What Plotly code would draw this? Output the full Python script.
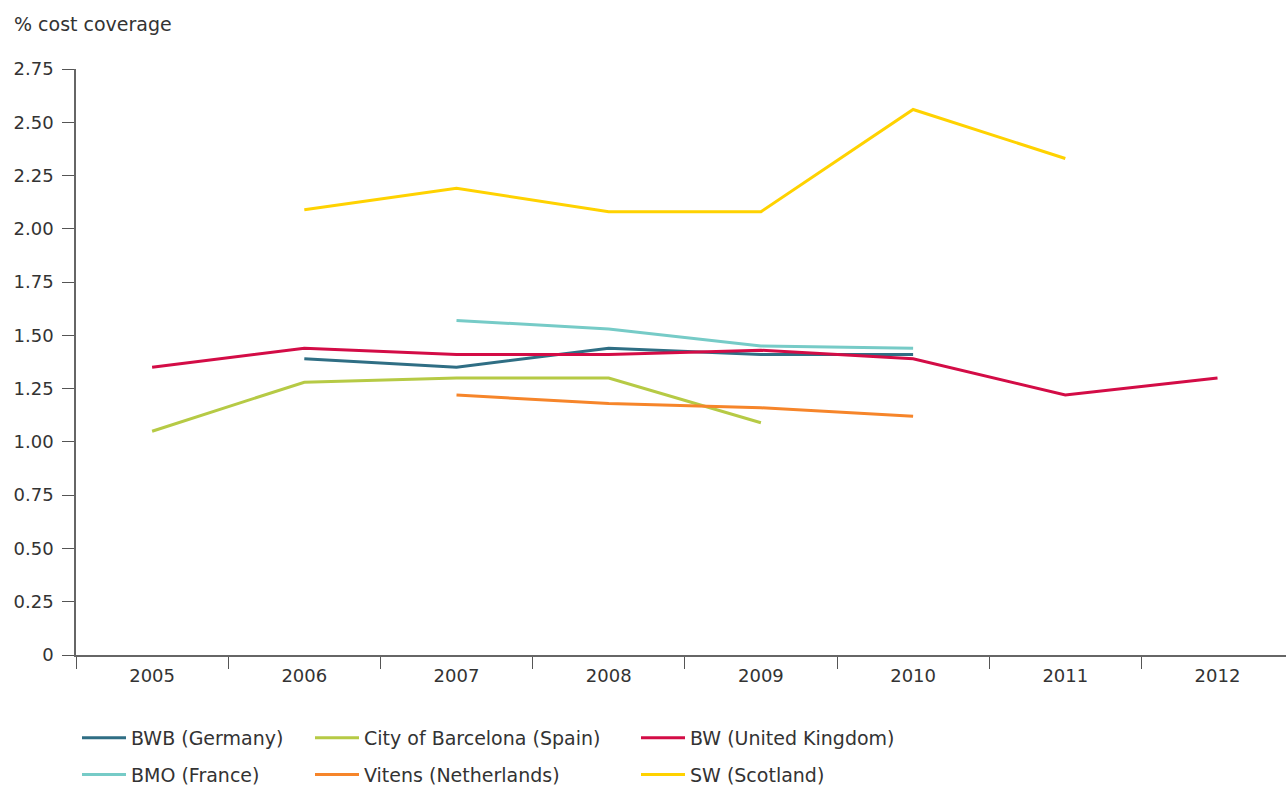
import plotly.graph_objects as go

years = ["2005", "2006", "2007", "2008", "2009", "2010", "2011", "2012"]

bwb_germany = [None, 1.39, 1.35, 1.44, 1.41, 1.41, None, None]
barcelona_spain = [1.05, 1.28, 1.30, 1.30, 1.09, None, None, None]
bw_uk = [1.35, 1.44, 1.41, 1.41, 1.43, 1.39, 1.22, 1.30]
bmo_france = [None, None, 1.57, 1.53, 1.45, 1.44, None, None]
vitens_nl = [None, None, 1.22, 1.18, 1.16, 1.12, None, None]
sw_scotland = [None, 2.09, 2.19, 2.08, 2.08, 2.56, 2.33, None]

ytick_vals = [0, 0.25, 0.5, 0.75, 1.0, 1.25, 1.5, 1.75, 2.0, 2.25, 2.5, 2.75]
ytick_text = ["0", "0.25", "0.50", "0.75", "1.00", "1.25", "1.50", "1.75", "2.00", "2.25", "2.50", "2.75"]

series = [
    ("BWB (Germany)", bwb_germany, "#2f6e84", "legend"),
    ("BMO (France)", bmo_france, "#76cbc7", "legend"),
    ("City of Barcelona (Spain)", barcelona_spain, "#b6ca45", "legend2"),
    ("Vitens (Netherlands)", vitens_nl, "#f6852a", "legend2"),
    ("BW (United Kingdom)", bw_uk, "#d30c46", "legend3"),
    ("SW (Scotland)", sw_scotland, "#ffd200", "legend3"),
]

W, H = 1286, 787
ML, MR, MT, MB = 76, 0, 69, 132
PW, PH = W - ML - MR, H - MT - MB

fig = go.Figure()
for name, vals, color, leg in series:
    fig.add_trace(go.Scatter(
        x=years, y=vals, name=name, mode="lines",
        line=dict(color=color, width=3),
        connectgaps=False, legend=leg, legendgroup=name,
    ))

tick_font = dict(family="DejaVu Sans", size=18, color="#333333")
text_font = dict(family="DejaVu Sans", size=19, color="#333333")


def px_x(px):
    return (px - ML) / PW


def px_y(py):
    return (H - MB - py) / PH


leg_common = dict(yref="paper", xref="paper", xanchor="left", yanchor="top",
                  orientation="v", font=text_font, tracegroupgap=9, itemwidth=44,
                  bgcolor="rgba(0,0,0,0)")

fig.update_layout(
    width=W, height=H,
    margin=dict(l=ML, r=MR, t=MT, b=MB, autoexpand=False),
    paper_bgcolor="white", plot_bgcolor="white",
    font=tick_font,
    showlegend=True,
    xaxis=dict(
        type="category", range=[-0.5, 7.45],
        tickson="boundaries", ticks="outside", ticklen=12, tickwidth=1,
        tickcolor="#555555", showline=True, linecolor="#666666", linewidth=1.5,
        showgrid=False, zeroline=False, tickfont=tick_font, ticklabelstandoff=4,
    ),
    yaxis=dict(
        range=[0, 2.75], tickvals=ytick_vals, ticktext=ytick_text,
        ticks="outside", ticklen=12, tickwidth=1, tickcolor="#555555",
        showline=True, linecolor="#666666", linewidth=1.5,
        showgrid=False, zeroline=False, tickfont=tick_font, ticklabelstandoff=5,
    ),
    legend=dict(x=px_x(77), y=px_y(719), **leg_common),
    legend2=dict(x=px_x(310), y=px_y(719), **leg_common),
    legend3=dict(x=px_x(636), y=px_y(719), **leg_common),
    annotations=[dict(text="% cost coverage", x=px_x(12), y=px_y(24),
                      xref="paper", yref="paper", xanchor="left", yanchor="middle",
                      showarrow=False, font=text_font)],
)

fig.write_html("out.html", config={"displayModeBar": False},
               post_script="document.body.style.margin='0';document.body.style.overflow='hidden';")
